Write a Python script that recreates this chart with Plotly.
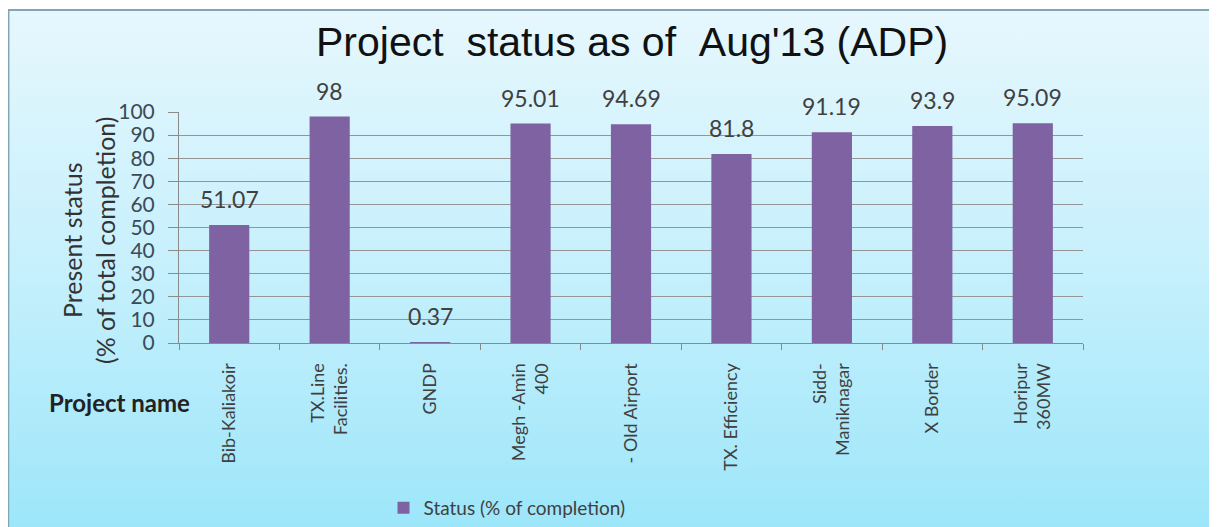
import base64
import plotly.graph_objects as go

# ---- data ----
categories = ["Bib-Kaliakoir", "TX.Line<br>Facilities.", "GNDP", "Megh -Amin<br>400",
              "- Old Airport", "TX. Efficiency", "Sidd-<br>Maniknagar", "X Border",
              "Horipur<br>360MW"]
values = [51.07, 98, 0.37, 95.01, 94.69, 81.8, 91.19, 93.9, 95.09]
series_name = "Status (% of completion)"
y_ticks = list(range(0, 101, 10))

# ---- geometry: page pixels; the html body adds an 8px margin ----
OFF = 8
PW, PH = 1217, 527
W, H = PW - OFF, PH - OFF
L, R, T, B = 179 - OFF, 1083 - OFF, 112 - OFF, 343 - OFF


def px(page_x):
    return (page_x - OFF - L) / (R - L)


def py(page_y):
    return (B - (page_y - OFF)) / (B - T)


BAR = "#7f62a1"
TXT = "#404040"
FONT = "Lato, 'Open Sans', sans-serif"

svg = ('<svg xmlns="http://www.w3.org/2000/svg" width="100" height="100" preserveAspectRatio="none">'
       '<defs><linearGradient id="g" x1="0" y1="0" x2="0" y2="1">'
       '<stop offset="0" stop-color="#e6f7fd"/><stop offset="0.5" stop-color="#c6f0fc"/>'
       '<stop offset="1" stop-color="#9de6fa"/></linearGradient></defs>'
       '<rect width="100" height="100" fill="url(#g)"/></svg>')
svg_uri = "data:image/svg+xml;base64," + base64.b64encode(svg.encode()).decode()

fig = go.Figure()
fig.add_trace(go.Bar(x=categories, y=values, name=series_name, marker_color=BAR,
                     marker_line_width=0, showlegend=True))

annotations = []
for c, v in zip(categories, values):
    annotations.append(dict(x=c, y=v, xref="x", yref="y", text=f"{v:g}", showarrow=False,
                            yanchor="bottom", yshift=10,
                            font=dict(family=FONT, size=23, color=TXT)))

annotations += [
    dict(x=px(632), y=py(42), xref="paper", yref="paper", showarrow=False,
         text="Project\u00a0\u00a0status as of\u00a0\u00a0Aug'13 (ADP)",
         font=dict(family="Liberation Sans, Arial", size=41, color="#111111"),
         xanchor="center", yanchor="middle"),
    dict(x=px(33), y=py(OFF + 1), xref="paper", yref="paper", showarrow=False,
         text="1) Project included in ADP",
         font=dict(family="Liberation Sans, Arial", size=25, color="#111111"),
         xanchor="left", yanchor="bottom"),
    dict(x=px(88), y=py(240), xref="paper", yref="paper", showarrow=False,
         text="Present status<br>(% of total completion)", textangle=-90,
         font=dict(family=FONT, size=25, color="#333333"),
         xanchor="center", yanchor="middle"),
    dict(x=px(47), y=py(402), xref="paper", yref="paper", showarrow=False,
         text="<b>Project name</b>",
         font=dict(family=FONT, size=24, color="#222222"),
         xanchor="left", yanchor="middle"),
]

shapes = [
    dict(type="line", xref="paper", yref="paper", x0=px(OFF + 0.5), x1=px(OFF + 0.5),
         y0=py(10), y1=py(PH + 20), line=dict(color="#7fa6b2", width=2)),
    dict(type="line", xref="paper", yref="paper", x0=px(OFF), x1=px(PW + 20),
         y0=py(10), y1=py(10), line=dict(color="#7fa6b2", width=2)),
]

fig.update_layout(
    width=W, height=H,
    margin=dict(l=L, r=W - R, t=T, b=H - B, autoexpand=False),
    paper_bgcolor="white", plot_bgcolor="white",
    bargap=0.6,
    font=dict(family=FONT, color=TXT),
    showlegend=True,
    legend=dict(orientation="h", x=px(507), y=py(508), xanchor="center", yanchor="middle",
                bgcolor="rgba(0,0,0,0)", itemwidth=30,
                font=dict(family=FONT, size=19, color=TXT)),
    annotations=annotations,
    shapes=shapes,
    images=[dict(source=svg_uri, xref="paper", yref="paper", x=px(OFF + 1.5), y=py(11),
                 sizex=(PW - OFF) / (R - L), sizey=(PH - 11) / (B - T), sizing="stretch",
                 xanchor="left", yanchor="top", layer="below")],
)
fig.update_xaxes(showline=True, linecolor="#8a8a8a", ticks="outside", tickson="boundaries",
                 ticklen=6, tickcolor="#8a8a8a", tickangle=-90, ticklabelstandoff=12,
                 tickfont=dict(family=FONT, size=18, color=TXT), showgrid=False)
fig.update_yaxes(range=[0, 100], tickvals=y_ticks, showline=True, linecolor="#8a8a8a",
                 ticks="outside", ticklen=10, tickcolor="#8a8a8a", ticklabelstandoff=9,
                 gridcolor="#959595", gridwidth=1, zeroline=False,
                 tickfont=dict(family=FONT, size=21, color="#3c4a56"))

fig.write_html("out.html")
